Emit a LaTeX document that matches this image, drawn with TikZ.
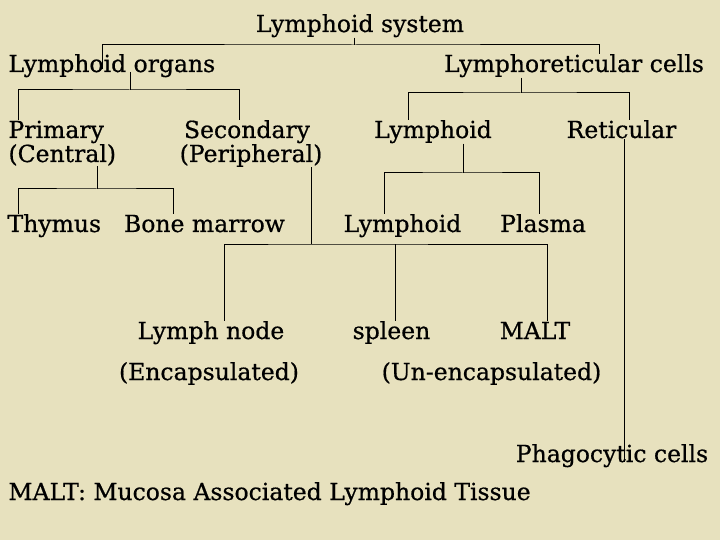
\documentclass[tikz,border=0pt]{standalone}
\usepackage{fontspec}
\setmainfont{DejaVu Serif}[FakeBold=0.6]
\definecolor{parchment}{RGB}{231,225,190}
\begin{document}
\begin{tikzpicture}[x=1pt,y=-1pt,line width=1pt,
  lbl/.style={inner sep=0pt,anchor=base,font=\fontsize{23.5}{28}\selectfont},
  lft/.style={lbl,anchor=base west}]
  \fill[parchment] (0,0) rectangle (720,540);

  \node[lbl] (sys) at (360,32) {Lymphoid system};
  \node[lft] (org) at (8,72) {Lymphoid organs};
  \node[lbl] (lrc) at (574,72) {Lymphoreticular cells};

  \node[lft] (pri) at (8,138) {Primary};
  \node[lft] (cen) at (8,162) {(Central)};
  \node[lbl] (sec) at (247,138) {Secondary};
  \node[lbl] (per) at (251,162) {(Peripheral)};
  \node[lbl] (lym) at (433,138) {Lymphoid};
  \node[lbl] (ret) at (621.5,138) {Reticular};

  \node[lft] (thy) at (7,232) {Thymus};
  \node[lbl] (bon) at (204.5,232) {Bone marrow};
  \node[lbl] (lym2) at (402.5,232) {Lymphoid};
  \node[lbl] (pla) at (543,232) {Plasma};

  \node[lbl] (lnd) at (211,339) {Lymph node};
  \node[lbl] (enc) at (209,380) {(Encapsulated)};
  \node[lbl] (spl) at (391.5,339) {spleen};
  \node[lbl] (mlt) at (535,339) {MALT};
  \node[lbl] (unc) at (491.5,380) {(Un-encapsulated)};

  \node[lbl] (phg) at (612,462) {Phagocytic cells};
  \node[lft] (key) at (8,500) {MALT: Mucosa Associated Lymphoid Tissue};

  \draw (sys.south -| 354,0) -- (354,45);
  \draw (org.mid -| 102,0) |- (354,45) -| (lrc.north -| 599,0);

  \draw (org.base -| 130,0) -- (130,90);
  \draw (pri.north -| 18,0) |- (130,90) -| (sec.north -| 239,0);

  \draw (cen.south -| 97,0) -- (97,189);
  \draw (thy.north -| 18,0) |- (97,189) -| (bon.north -| 173,0);

  \draw (per.south -| 311,0) -- (311,244);
  \draw (lnd.north -| 224,0) |- (311,244) -| (mlt.north -| 547,0);
  \draw (395,244) -- (spl.north -| 395,0);

  \draw (lrc.south -| 521,0) -- (521,93);
  \draw (lym.north -| 408,0) |- (521,93) -| (ret.north -| 629,0);

  \draw (lym.south -| 463,0) -- (463,173);
  \draw (lym2.north -| 384,0) |- (463,173) -| (pla.north -| 539,0);

  \draw (ret.south -| 624,0) -- (phg.base -| 624,0);
\end{tikzpicture}
\end{document}
